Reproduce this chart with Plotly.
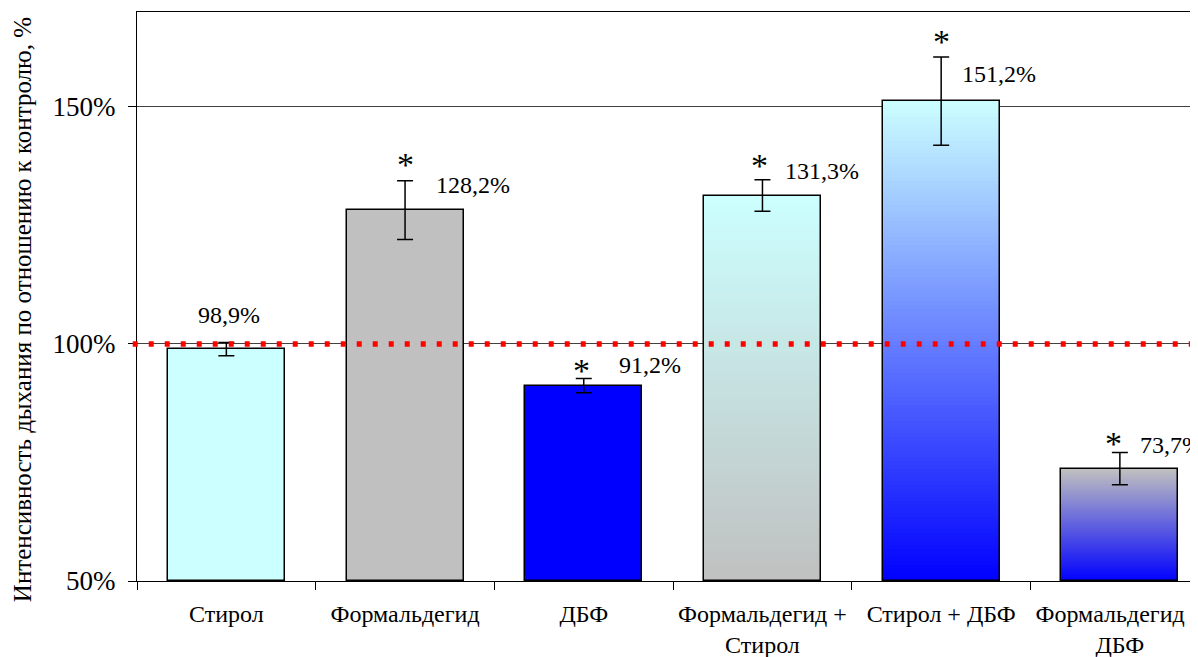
import plotly.graph_objects as go

# ---------------- data ----------------
categories = ["Стирол", "Формальдегид", "ДБФ", "Формальдегид +<br>Стирол",
              "Стирол + ДБФ", "Формальдегид +<br>ДБФ"]
values = [98.9, 128.2, 91.2, 131.3, 151.2, 73.7]
errors = [1.4, 6.2, 1.5, 3.3, 9.3, 3.4]
value_labels = ["98,9%", "128,2%", "91,2%", "131,3%", "151,2%", "73,7%"]
significant = [False, True, True, True, True, True]
y_tick_values = [50, 100, 150]
y_tick_labels = ["50%", "100%", "150%"]
control_level = 100
y_title = "Интенсивность дыхания по отношению к контролю, %"

# ---------------- styles ----------------
Y_MIN, Y_MAX = 50, 170
top_colors = ["#CCFFFF", "#C0C0C0", "#0000FF", "#CCFFFF", "#CCFFFF", "#C0C0C0"]
bottom_colors = ["#CCFFFF", "#C0C0C0", "#0000FF", "#C0C0C0", "#0000FF", "#0000FF"]
label_xshift = [3, 29, 33, 21, 19, 18]
label_yshift = [34, 25, 21, 25, 27, 24]
label_xanchor = ["center", "left", "left", "left", "left", "left"]
star_offset = [0, 19, 11, 17, 18, 12]
star_xshift = [0, 0, -2, -3, 0, -6]
FONT = "Liberation Serif"
BAR_W = 0.655
N_SEG = 120


def hex_rgb(h):
    h = h.lstrip("#")
    return tuple(int(h[i:i + 2], 16) for i in (0, 2, 4))


def mix(c0, c1, t):
    a, b = hex_rgb(c0), hex_rgb(c1)
    return "rgb(%d,%d,%d)" % tuple(round(a[i] + (b[i] - a[i]) * t) for i in range(3))


# gradient segments built from the bar values
seg_x, seg_base, seg_h, seg_col = [], [], [], []
for cat, v, ct, cb in zip(categories, values, top_colors, bottom_colors):
    span = v - Y_MIN
    step = span / N_SEG
    for k in range(N_SEG):
        b = Y_MIN + step * k
        h = min(step * 2.0, v - b)
        seg_x.append(cat)
        seg_base.append(b)
        seg_h.append(h)
        seg_col.append(mix(cb, ct, (k + 0.5) / N_SEG))

fig = go.Figure()
fig.add_trace(go.Bar(
    x=seg_x, y=seg_h, base=seg_base, width=BAR_W,
    marker=dict(color=seg_col, line=dict(width=0)),
    hoverinfo="skip", showlegend=False,
))
fig.add_trace(go.Bar(
    x=categories, y=[v - Y_MIN for v in values], base=Y_MIN, width=BAR_W,
    marker=dict(color="rgba(0,0,0,0)", line=dict(color="black", width=1.5)),
    error_y=dict(type="data", array=errors, visible=True, color="black",
                 thickness=1.5, width=8),
    showlegend=False,
))

annotations = []
for i, cat in enumerate(categories):
    annotations.append(dict(
        x=cat, y=values[i], xref="x", yref="y", text=value_labels[i],
        showarrow=False, xanchor=label_xanchor[i], yanchor="middle",
        xshift=label_xshift[i], yshift=label_yshift[i],
        font=dict(family=FONT, size=24, color="black"),
    ))
    if significant[i]:
        annotations.append(dict(
            x=cat, y=values[i] + errors[i], xref="x", yref="y", text="*",
            showarrow=False, xanchor="center", yanchor="bottom",
            xshift=star_xshift[i], yshift=star_offset[i] - 23,
            font=dict(family=FONT, size=34, color="black"),
        ))

annotations.append(dict(
    x=-115 / 1069, y=0.476, xref="paper", yref="paper", text=y_title,
    showarrow=False, textangle=-90, xanchor="center", yanchor="middle",
    font=dict(family=FONT, size=25, color="black"),
))

fig.update_layout(
    width=1198, height=657,
    margin=dict(l=129, r=0, t=4, b=84, autoexpand=False),
    paper_bgcolor="white", plot_bgcolor="white",
    barmode="overlay", bargap=0,
    annotations=annotations,
    shapes=[dict(type="line", xref="paper", yref="y", x0=-0.004, x1=1,
                 y0=control_level, y1=control_level, layer="above",
                 line=dict(color="#FF0000", width=5.5, dash="5px,11px"))],
    font=dict(family=FONT, color="black"),
)
fig.update_xaxes(
    type="category", categoryorder="array", categoryarray=categories,
    range=[-0.5, 5.482], showgrid=False, showline=True, linecolor="black",
    linewidth=1, mirror=True, ticks="outside", ticklen=8, tickcolor="black",
    tickson="boundaries", automargin=False, ticklabelstandoff=11,
    tickfont=dict(family=FONT, size=24, color="black"),
)
fig.update_yaxes(
    range=[Y_MIN, Y_MAX], tickvals=y_tick_values, ticktext=y_tick_labels,
    showgrid=True, gridcolor="#404040", gridwidth=1, zeroline=False,
    showline=True, linecolor="black", linewidth=1, ticks="outside", ticklen=8,
    tickcolor="black", automargin=False, ticklabelstandoff=7,
    tickfont=dict(family=FONT, size=27, color="black"),
)

fig.write_html("out.html")
